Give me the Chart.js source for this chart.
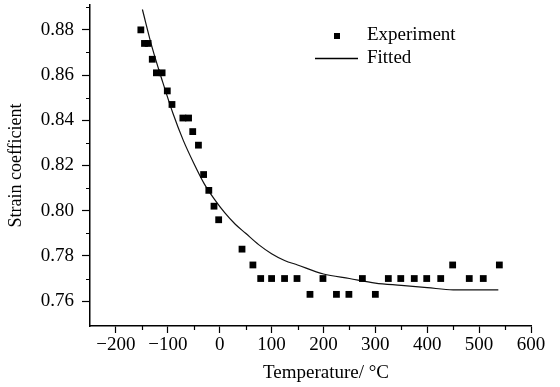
<!DOCTYPE html>
<html>
<head>
<meta charset="utf-8">
<script src="https://cdn.jsdelivr.net/npm/chart.js@4"></script>
<style>
html, body { margin: 0; padding: 0; background: #fff; }
</style>
</head>
<body>
<canvas id="strainChart" width="560" height="387"></canvas>
<script>
// Experiment points (temperature in °C, strain coefficient)
const expTemp = [-152, -145, -138, -130, -122, -111, -101, -92, -71, -60, -52, -41, -31, -21, -11, -2,
    43, 64, 79, 100, 125, 149, 174, 199, 225, 249, 275, 300, 325, 349, 375, 399, 426, 449, 481, 508, 539]
const expStrain = [0.880, 0.874, 0.874, 0.867, 0.861, 0.861, 0.853, 0.847, 0.841, 0.841, 0.835, 0.829, 0.816, 0.809, 0.802, 0.796,
    0.783, 0.776, 0.770, 0.770, 0.770, 0.770, 0.763, 0.770, 0.763, 0.763, 0.770, 0.763, 0.770, 0.770, 0.770, 0.770, 0.770, 0.776, 0.770, 0.770, 0.776]

// Fitted curve
const fitTemp = [-149, -130, -110, -90, -70, -50, -30, -10, 10, 30, 50, 75, 100, 125, 150, 200, 250, 300, 350, 400, 450, 500, 537]
const fitStrain = [0.889, 0.872, 0.857, 0.843, 0.831, 0.821, 0.812, 0.805, 0.799, 0.794, 0.790, 0.785, 0.781, 0.778, 0.776,
    0.772, 0.770, 0.768, 0.767, 0.766, 0.765, 0.765, 0.765]

// Axis ticks
const xTicks = [-200, -100, 0, 100, 200, 300, 400, 500, 600]
const xMinorTicks = [-150, -50, 50, 150, 250, 350, 450, 550]
const yTicks = [0.76, 0.78, 0.80, 0.82, 0.84, 0.86, 0.88]
const yMinorTicks = [0.77, 0.79, 0.81, 0.83, 0.85, 0.87, 0.89]

const seriesNames = ['Experiment', 'Fitted']
const xTitle = 'Temperature/ \u00B0C'
const yTitle = 'Strain coefficient'

const serif = "'Liberation Serif', 'DejaVu Serif', serif"

// Minor ticks, x title and the legend are drawn by hand
const extras = {
    id: 'extras',
    afterDraw(chart) {
        const c = chart.ctx
        const xs = chart.scales.x
        const ys = chart.scales.y
        const area = chart.chartArea
        c.save()
        c.strokeStyle = '#000'
        c.lineWidth = 1.2
        c.beginPath()
        yMinorTicks.forEach(v => {
            const py = Math.round(ys.getPixelForValue(v)) + 0.5
            c.moveTo(area.left - 4, py)
            c.lineTo(area.left, py)
        })
        xMinorTicks.forEach(v => {
            const px = Math.round(xs.getPixelForValue(v)) + 0.5
            c.moveTo(px, area.bottom)
            c.lineTo(px, area.bottom + 4)
        })
        c.stroke()

        c.fillStyle = '#000'
        c.font = '19px ' + serif
        c.textBaseline = 'middle'

        // x axis title
        c.textAlign = 'center'
        c.fillText(xTitle, 326, 373)

        // legend
        c.textAlign = 'left'
        c.fillRect(334, 33, 6, 6)
        c.lineWidth = 1.3
        c.beginPath()
        c.moveTo(315, 58.5)
        c.lineTo(358, 58.5)
        c.stroke()
        c.fillText(seriesNames[0], 367, 35)
        c.fillText(seriesNames[1], 367, 58)
        c.restore()
    }
}

const ctx = document.getElementById('strainChart')
new Chart(ctx, {
    type: 'scatter',
    data: {
        datasets: [
            {
                label: seriesNames[0],
                data: expTemp.map((t, i) => ({ x: t, y: expStrain[i] })),
                pointStyle: 'rect',
                pointRadius: 4.8,
                backgroundColor: '#000',
                borderColor: '#000',
                borderWidth: 0
            },
            {
                label: seriesNames[1],
                data: fitTemp.map((t, i) => ({ x: t, y: fitStrain[i] })),
                showLine: true,
                pointRadius: 0,
                borderColor: '#111',
                borderWidth: 1.2,
                cubicInterpolationMode: 'monotone'
            }
        ]
    },
    options: {
        responsive: false,
        animation: false,
        layout: { padding: { top: 5, right: 29, left: 0, bottom: 0 } },
        plugins: {
            legend: { display: false },
            tooltip: { enabled: false }
        },
        scales: {
            x: {
                type: 'linear',
                min: -250,
                max: 600,
                afterBuildTicks: scale => { scale.ticks = xTicks.map(v => ({ value: v })) },
                afterFit: scale => {
                    scale.height = 61
                    scale.paddingLeft = 0
                    scale.paddingRight = 0
                },
                border: { color: '#000', width: 1.5 },
                grid: { drawOnChartArea: false, tickLength: 7, tickColor: '#000', tickWidth: 1.2 },
                ticks: {
                    color: '#000',
                    padding: 1,
                    font: { family: serif, size: 19 },
                    callback: v => v < 0 ? '\u2212' + Math.abs(v) : String(v)
                }
            },
            y: {
                min: 0.749,
                max: 0.891,
                afterBuildTicks: scale => { scale.ticks = yTicks.map(v => ({ value: v })) },
                afterFit: scale => {
                    scale.width = 90
                    scale.paddingTop = 0
                    scale.paddingBottom = 0
                },
                border: { color: '#000', width: 1.5 },
                grid: { drawOnChartArea: false, tickLength: 8, tickColor: '#000', tickWidth: 1.2 },
                ticks: {
                    color: '#000',
                    padding: 8,
                    font: { family: serif, size: 19 },
                    callback: v => v.toFixed(2)
                },
                title: {
                    display: true,
                    text: yTitle,
                    color: '#000',
                    font: { family: serif, size: 18 },
                    padding: { top: 5, bottom: 0 }
                }
            }
        }
    },
    plugins: [extras]
})
</script>
</body>
</html>
